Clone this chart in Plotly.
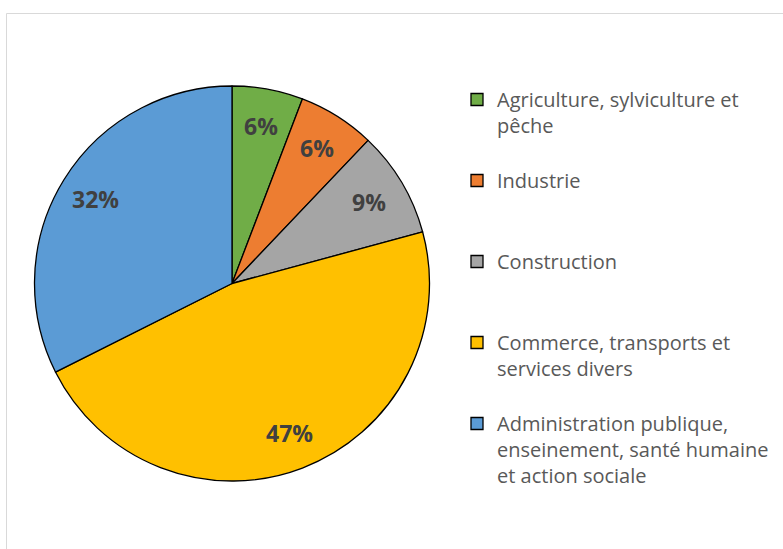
import math
import plotly.graph_objects as go

categories = [
    "Agriculture, sylviculture et<br>pêche<br> ",
    "Industrie<br> <br> ",
    "Construction<br> <br> ",
    "Commerce, transports et<br>services divers<br> ",
    "Administration publique,<br>enseinement, santé humaine<br>et action sociale",
]
values = [5.8, 6.3, 8.7, 46.8, 32.4]
colors = ["#70AD47", "#ED7D31", "#A5A5A5", "#FFC000", "#5B9BD5"]

W, H = 783, 549
CX, CY, R = 232, 283.5, 197.5          # pie centre / radius in px
LABEL_R = 0.81                          # label distance as fraction of radius

fig = go.Figure(go.Pie(
    labels=categories,
    values=values,
    sort=False,
    direction="clockwise",
    rotation=0,
    marker=dict(colors=colors, line=dict(color="#000000", width=1.3)),
    textinfo="none",
    domain=dict(x=[(CX - R) / W, (CX + R) / W], y=[1 - (CY + R) / H, 1 - (CY - R) / H]),
    hoverinfo="skip",
))

# percentage labels placed along each slice bisector (derived from the values)
total = sum(values)
annotations = []
cum = 0.0
for v in values:
    mid = (cum + v / 2) / total * 2 * math.pi
    cum += v
    px = CX + LABEL_R * R * math.sin(mid)
    py = CY - LABEL_R * R * math.cos(mid)
    annotations.append(dict(
        x=px / W, y=1 - py / H, xref="paper", yref="paper",
        text=f"{round(v / total * 100)}%", showarrow=False,
        xanchor="center", yanchor="middle",
        font=dict(family="Open Sans", size=23, color="#404040", weight="bold"),
    ))

fig.update_layout(
    width=W, height=H,
    margin=dict(l=0, r=0, t=0, b=0),
    paper_bgcolor="white",
    showlegend=True,
    legend=dict(
        x=457 / W, y=1 - 80 / H, xanchor="left", yanchor="top",
        valign="top",
        font=dict(family="Open Sans", size=20, color="#595959"),
        bgcolor="rgba(0,0,0,0)",
        tracegroupgap=0,
    ),
    annotations=annotations,
    shapes=[dict(
        type="rect", xref="paper", yref="paper",
        x0=6.5 / W, x1=1.05, y0=-0.05, y1=1 - 13.5 / H,
        line=dict(color="#D9D9D9", width=1), fillcolor="rgba(0,0,0,0)",
        layer="below",
    )],
)

fig.write_html(
    "out.html",
    config={"displayModeBar": False},
    post_script="document.body.style.margin='0';",
)
